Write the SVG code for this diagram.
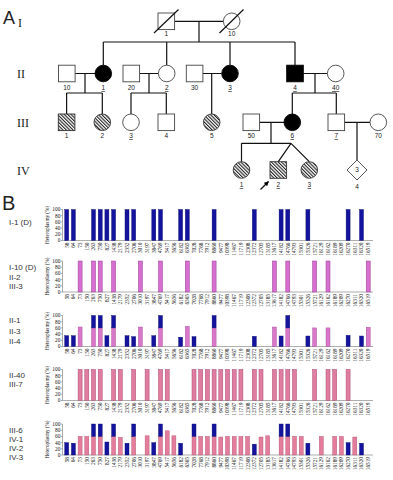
<svg xmlns="http://www.w3.org/2000/svg" width="393" height="480" viewBox="0 0 393 480">
<style>
.ln{stroke:#111;stroke-width:1.2;fill:none}
.open{fill:#fff;stroke:#444;stroke-width:0.9}
.aff{fill:#000;stroke:#000;stroke-width:0.9}
.hat{fill:url(#hatch);stroke:#333;stroke-width:0.9}
.id{font-family:"Liberation Sans",Arial,sans-serif;font-size:6.5px;fill:#222;text-anchor:middle}
.u{text-decoration:underline}
.gen{font-family:"Liberation Serif","Times New Roman",serif;font-size:12px;fill:#222}
.big{font-family:"Liberation Sans",Arial,sans-serif;fill:#222}
.cl{font-family:"Liberation Sans",Arial,sans-serif;font-size:8px;fill:#333}
.ax{stroke:#777;stroke-width:0.6;fill:none}
.tk{font-family:"Liberation Serif",serif;font-size:5.3px;fill:#111;text-anchor:end}
.xl{font-family:"Liberation Serif",serif;font-size:5.3px;fill:#111;text-anchor:end}
.yt{font-family:"Liberation Serif",serif;font-size:5.2px;fill:#111;text-anchor:middle}
.b{fill:#13139e;stroke:#0a0a6e;stroke-width:0.4}
.p2{fill:#d66fd0;stroke:#9a3a96;stroke-width:0.5}
.p3{fill:#d977c8;stroke:#a0479a;stroke-width:0.4}
.p4{fill:#e07ca0;stroke:#a84a6c;stroke-width:0.5}
.p5{fill:#e47c9c;stroke:#b0506e;stroke-width:0.4}
</style>
<defs>
<pattern id="hatch" patternUnits="userSpaceOnUse" width="2.4" height="2.4" patternTransform="rotate(-45)">
<rect width="2.4" height="2.4" fill="#fff"/>
<rect width="1.1" height="2.4" fill="#222"/>
</pattern>
<marker id="ah" viewBox="0 0 10 10" refX="9" refY="5" markerWidth="4" markerHeight="4" orient="auto"><path d="M0,0 L10,5 L0,10 z" fill="#000"/></marker>
<g id="axes">
<path class="ax" d="M62.5,0 V31 H373 M60.8,0 H62.5 M60.8,6.2 H62.5 M60.8,12.4 H62.5 M60.8,18.6 H62.5 M60.8,24.8 H62.5 M60.8,31 H62.5"/>
<text class="tk" x="60.3" y="1.9">100</text>
<text class="tk" x="60.3" y="8.1">80</text>
<text class="tk" x="60.3" y="14.3">60</text>
<text class="tk" x="60.3" y="20.5">40</text>
<text class="tk" x="60.3" y="26.7">20</text>
<text class="tk" x="60.3" y="32.9">0</text>
<text class="yt" transform="translate(48.8,15.5) rotate(-90)">Heteroplasmy (%)</text>
<g class="xl">
<text transform="translate(68.6,33) rotate(-90)">58</text>
<text transform="translate(75.3,33) rotate(-90)">64</text>
<text transform="translate(82.0,33) rotate(-90)">73</text>
<text transform="translate(88.7,33) rotate(-90)">150</text>
<text transform="translate(95.4,33) rotate(-90)">263</text>
<text transform="translate(102.1,33) rotate(-90)">750</text>
<text transform="translate(108.8,33) rotate(-90)">827</text>
<text transform="translate(115.5,33) rotate(-90)">1438</text>
<text transform="translate(122.2,33) rotate(-90)">2179</text>
<text transform="translate(128.9,33) rotate(-90)">2352</text>
<text transform="translate(135.6,33) rotate(-90)">2706</text>
<text transform="translate(142.3,33) rotate(-90)">3010</text>
<text transform="translate(149.0,33) rotate(-90)">3197</text>
<text transform="translate(155.7,33) rotate(-90)">3847</text>
<text transform="translate(162.4,33) rotate(-90)">4769</text>
<text transform="translate(169.1,33) rotate(-90)">5417</text>
<text transform="translate(175.8,33) rotate(-90)">5656</text>
<text transform="translate(182.5,33) rotate(-90)">6182</text>
<text transform="translate(189.2,33) rotate(-90)">6365</text>
<text transform="translate(195.9,33) rotate(-90)">7028</text>
<text transform="translate(202.6,33) rotate(-90)">7768</text>
<text transform="translate(209.3,33) rotate(-90)">7912</text>
<text transform="translate(216.0,33) rotate(-90)">8860</text>
<text transform="translate(222.7,33) rotate(-90)">9477</text>
<text transform="translate(229.4,33) rotate(-90)">10398</text>
<text transform="translate(236.1,33) rotate(-90)">11467</text>
<text transform="translate(242.8,33) rotate(-90)">11719</text>
<text transform="translate(249.5,33) rotate(-90)">12308</text>
<text transform="translate(256.2,33) rotate(-90)">12372</text>
<text transform="translate(262.9,33) rotate(-90)">12705</text>
<text transform="translate(269.6,33) rotate(-90)">13185</text>
<text transform="translate(276.3,33) rotate(-90)">13617</text>
<text transform="translate(283.0,33) rotate(-90)">14182</text>
<text transform="translate(289.7,33) rotate(-90)">14766</text>
<text transform="translate(296.4,33) rotate(-90)">14793</text>
<text transform="translate(303.1,33) rotate(-90)">15301</text>
<text transform="translate(309.8,33) rotate(-90)">15326</text>
<text transform="translate(316.5,33) rotate(-90)">15721</text>
<text transform="translate(323.2,33) rotate(-90)">16129</text>
<text transform="translate(329.9,33) rotate(-90)">16162</text>
<text transform="translate(336.6,33) rotate(-90)">16189</text>
<text transform="translate(343.3,33) rotate(-90)">16209</text>
<text transform="translate(350.0,33) rotate(-90)">16270</text>
<text transform="translate(356.7,33) rotate(-90)">16311</text>
<text transform="translate(363.4,33) rotate(-90)">16320</text>
<text transform="translate(370.1,33) rotate(-90)">16519</text>
</g>
</g>
</defs>
<rect width="393" height="480" fill="#fff"/>

<!-- Panel A -->
<text class="big" x="3" y="23.5" font-size="18">A</text>
<text class="gen" x="18" y="27">I</text>
<text class="gen" x="17" y="77.5">II</text>
<text class="gen" x="17" y="126.5">III</text>
<text class="gen" x="17" y="174.5">IV</text>

<g id="connectors">
<path class="ln" d="M175,21.3 H223.4 M199,21.3 V42 M103.3,42 H295 M103.3,42 V65.2 M166.7,42 V65.2 M230,42 V65.2 M295,42 V65.2"/>
<path class="ln" d="M75.1,73.5 H95 M139.6,73.5 H158.4 M202.9,73.5 H221.7 M303.3,73.5 H327.4 M85,73.5 V93 M149,73.5 V93 M211.7,73.5 V114 M315,73.5 V93"/>
<path class="ln" d="M66.6,93 H102.3 M131,93 H166.3 M292.3,93 H336.3 M66.6,93 V114 M102.3,93 V114 M131,93 V114 M166.3,93 V114 M292.3,93 V114 M336.3,93 V114"/>
<path class="ln" d="M259.6,122.3 H284 M344.6,122.3 H370 M271,122.3 V143.3 M357,122.3 V160 M241.5,143.3 H291 M241.5,143.3 V161.7 M291,143.3 L278.3,161.7 M291,143.3 L309.3,161.7"/>
<line class="ln" x1="260.5" y1="189.5" x2="268.5" y2="181.5" marker-end="url(#ah)"/>
</g>

<g id="I-1"><rect class="open" x="158" y="13" width="16.6" height="16.6"/><line class="ln" x1="154" y1="33" x2="178.5" y2="9.5"/><text class="id" x="166.3" y="36">1</text></g>
<g id="I-10"><circle class="open" cx="231.7" cy="21.3" r="8.3"/><line class="ln" x1="219.5" y1="33" x2="243.5" y2="9.5"/><text class="id" x="231.7" y="36">10</text></g>

<g id="II-10"><rect class="open" x="58.5" y="65.2" width="16.6" height="16.6"/><text class="id" x="66.8" y="90">10</text></g>
<g id="II-1"><circle class="aff" cx="103.3" cy="73.5" r="8.3"/><text class="id u" x="103.3" y="90">1</text></g>
<g id="II-20"><rect class="open" x="123" y="65.2" width="16.6" height="16.6"/><text class="id" x="131.3" y="90">20</text></g>
<g id="II-2"><circle class="open" cx="166.7" cy="73.5" r="8.3"/><text class="id u" x="166.7" y="90">2</text></g>
<g id="II-30"><rect class="open" x="186.3" y="65.2" width="16.6" height="16.6"/><text class="id" x="194.6" y="90">30</text></g>
<g id="II-3"><circle class="aff" cx="230" cy="73.5" r="8.3"/><text class="id u" x="230" y="90">3</text></g>
<g id="II-4"><rect class="aff" x="286.7" y="65.2" width="16.6" height="16.6"/><text class="id u" x="295" y="90">4</text></g>
<g id="II-40"><circle class="open" cx="335.7" cy="73.5" r="8.3"/><text class="id u" x="335.7" y="90">40</text></g>

<g id="III-1"><rect class="hat" x="58.3" y="114" width="16.6" height="16.6"/><text class="id" x="66.6" y="138">1</text></g>
<g id="III-2"><circle class="hat" cx="102.3" cy="122.3" r="8.3"/><text class="id" x="102.3" y="138">2</text></g>
<g id="III-3"><circle class="open" cx="131" cy="122.3" r="8.3"/><text class="id u" x="131" y="138">3</text></g>
<g id="III-4"><rect class="open" x="158" y="114" width="16.6" height="16.6"/><text class="id" x="166.3" y="138">4</text></g>
<g id="III-5"><circle class="hat" cx="211.7" cy="122.3" r="8.3"/><text class="id" x="211.7" y="138">5</text></g>
<g id="III-50"><rect class="open" x="243" y="114" width="16.6" height="16.6"/><text class="id" x="251.3" y="138">50</text></g>
<g id="III-6"><circle class="aff" cx="292.3" cy="122.3" r="8.3"/><text class="id u" x="292.3" y="138">6</text></g>
<g id="III-7"><rect class="open" x="328" y="114" width="16.6" height="16.6"/><text class="id u" x="336.3" y="138">7</text></g>
<g id="III-70"><circle class="open" cx="378.3" cy="122.3" r="8.3"/><text class="id" x="378.3" y="138">70</text></g>

<g id="IV-1"><circle class="hat" cx="241.5" cy="170" r="8.3"/><text class="id u" x="241.5" y="187.3">1</text></g>
<g id="IV-2"><rect class="hat" x="270" y="161.7" width="16.6" height="16.6"/><text class="id u" x="278.3" y="187.3">2</text></g>
<g id="IV-3"><circle class="hat" cx="309.3" cy="170" r="8.3"/><text class="id u" x="309.3" y="187.3">3</text></g>
<g id="IV-4"><polygon class="open" points="357,160 367,170 357,180 347,170"/><text class="id" x="357" y="172.4" font-size="7">3</text><text class="id" x="357" y="189">4</text></g>

<!-- Panel B -->
<text class="big" x="2" y="210" font-size="20">B</text>
<g class="cl">
<text x="9" y="225">I-1 (D)</text>
<text x="9" y="269.5">I-10 (D)</text>
<text x="9" y="279.5">II-2</text>
<text x="9" y="289">III-3</text>
<text x="9" y="322.5">II-1</text>
<text x="9" y="334">II-3</text>
<text x="9" y="344">II-4</text>
<text x="9" y="378">II-40</text>
<text x="9" y="387">III-7</text>
<text x="9" y="433">III-6</text>
<text x="9" y="441.5">IV-1</text>
<text x="9" y="450.5">IV-2</text>
<text x="9" y="459.5">IV-3</text>
</g>

<g id="chart-1" transform="translate(0,209.5)">
<use href="#axes"/>
<g class="b">
<rect x="64.7" y="0" width="4" height="31"/><rect x="71.4" y="0" width="4" height="31"/><rect x="91.5" y="0" width="4" height="31"/><rect x="98.2" y="0" width="4" height="31"/><rect x="104.9" y="0" width="4" height="31"/><rect x="111.6" y="0" width="4" height="31"/><rect x="125.0" y="0" width="4" height="31"/><rect x="131.7" y="0" width="4" height="31"/><rect x="151.8" y="0" width="4" height="31"/><rect x="158.5" y="0" width="4" height="31"/><rect x="178.6" y="0" width="4" height="31"/><rect x="185.3" y="0" width="4" height="31"/><rect x="212.1" y="0" width="4" height="31"/><rect x="252.3" y="0" width="4" height="31"/><rect x="279.1" y="0" width="4" height="31"/><rect x="285.8" y="0" width="4" height="31"/><rect x="305.9" y="0" width="4" height="31"/><rect x="346.1" y="0" width="4" height="31"/><rect x="359.5" y="0" width="4" height="31"/>
</g>
</g>

<g id="chart-2" transform="translate(0,261)">
<use href="#axes"/>
<g class="p2">
<rect x="78.1" y="0" width="4" height="31"/><rect x="91.5" y="0" width="4" height="31"/><rect x="98.2" y="0" width="4" height="31"/><rect x="111.6" y="0" width="4" height="31"/><rect x="138.4" y="0" width="4" height="31"/><rect x="158.5" y="0" width="4" height="31"/><rect x="185.3" y="0" width="4" height="31"/><rect x="212.1" y="0" width="4" height="31"/><rect x="272.4" y="0" width="4" height="31"/><rect x="285.8" y="0" width="4" height="31"/><rect x="312.6" y="0" width="4" height="31"/><rect x="326.0" y="0" width="4" height="31"/><rect x="366.2" y="0" width="4" height="31"/>
</g>
</g>

<g id="chart-3" transform="translate(0,315.5)">
<use href="#axes"/>
<g class="p3">
<rect x="78.1" y="11.5" width="4" height="19.5"/><rect x="91.5" y="12.4" width="4" height="18.6"/><rect x="98.2" y="12.4" width="4" height="18.6"/><rect x="111.6" y="12.4" width="4" height="18.6"/><rect x="138.4" y="11.5" width="4" height="19.5"/><rect x="158.5" y="12.4" width="4" height="18.6"/><rect x="185.3" y="10.85" width="4" height="20.15"/><rect x="212.1" y="12.4" width="4" height="18.6"/><rect x="272.4" y="11.5" width="4" height="19.5"/><rect x="285.8" y="12.4" width="4" height="18.6"/><rect x="312.6" y="12.4" width="4" height="18.6"/><rect x="326.0" y="12.4" width="4" height="18.6"/><rect x="366.2" y="11.8" width="4" height="19.2"/>
</g>
<g class="b">
<rect x="64.7" y="20.15" width="4" height="10.85"/><rect x="71.4" y="20.15" width="4" height="10.85"/><rect x="91.5" y="0" width="4" height="12.4"/><rect x="98.2" y="0" width="4" height="12.4"/><rect x="104.9" y="20.15" width="4" height="10.85"/><rect x="111.6" y="0" width="4" height="12.4"/><rect x="125.0" y="20.15" width="4" height="10.85"/><rect x="131.7" y="21.1" width="4" height="9.9"/><rect x="151.8" y="20.15" width="4" height="10.85"/><rect x="158.5" y="0" width="4" height="12.4"/><rect x="178.6" y="21.7" width="4" height="9.3"/><rect x="192.0" y="21.1" width="4" height="9.9"/><rect x="212.1" y="0" width="4" height="12.4"/><rect x="252.3" y="20.8" width="4" height="10.2"/><rect x="279.1" y="20.5" width="4" height="10.5"/><rect x="285.8" y="0" width="4" height="12.4"/><rect x="305.9" y="20.5" width="4" height="10.5"/><rect x="346.1" y="19.8" width="4" height="11.2"/><rect x="359.5" y="20.5" width="4" height="10.5"/>
</g>
</g>

<g id="chart-4" transform="translate(0,369.5)">
<use href="#axes"/>
<g class="p4">
<rect x="78.1" y="0" width="4" height="31"/><rect x="84.8" y="0" width="4" height="31"/><rect x="91.5" y="0" width="4" height="31"/><rect x="98.2" y="0" width="4" height="31"/><rect x="111.6" y="0" width="4" height="31"/><rect x="118.3" y="0" width="4" height="31"/><rect x="131.7" y="0" width="4" height="31"/><rect x="145.1" y="0" width="4" height="31"/><rect x="158.5" y="0" width="4" height="31"/><rect x="165.2" y="0" width="4" height="31"/><rect x="192.0" y="0" width="4" height="31"/><rect x="198.7" y="0" width="4" height="31"/><rect x="205.4" y="0" width="4" height="31"/><rect x="212.1" y="0" width="4" height="31"/><rect x="218.8" y="0" width="4" height="31"/><rect x="225.5" y="0" width="4" height="31"/><rect x="232.2" y="0" width="4" height="31"/><rect x="238.9" y="0" width="4" height="31"/><rect x="252.3" y="0" width="4" height="31"/><rect x="259.0" y="0" width="4" height="31"/><rect x="272.4" y="0" width="4" height="31"/><rect x="279.1" y="0" width="4" height="31"/><rect x="285.8" y="0" width="4" height="31"/><rect x="292.5" y="0" width="4" height="31"/><rect x="312.6" y="0" width="4" height="31"/><rect x="326.0" y="0" width="4" height="31"/><rect x="332.7" y="0" width="4" height="31"/><rect x="346.1" y="0" width="4" height="31"/>
</g>
</g>

<g id="chart-5" transform="translate(0,424)">
<use href="#axes"/>
<g class="p5">
<rect x="78.1" y="12.4" width="4" height="18.6"/><rect x="84.8" y="12.4" width="4" height="18.6"/><rect x="91.5" y="12.4" width="4" height="18.6"/><rect x="98.2" y="12.4" width="4" height="18.6"/><rect x="111.6" y="12.4" width="4" height="18.6"/><rect x="118.3" y="13.3" width="4" height="17.7"/><rect x="131.7" y="12.4" width="4" height="18.6"/><rect x="145.1" y="11.8" width="4" height="19.2"/><rect x="158.5" y="12.4" width="4" height="18.6"/><rect x="165.2" y="6.8" width="4" height="24.2"/><rect x="171.9" y="11.8" width="4" height="19.2"/><rect x="192.0" y="12.4" width="4" height="18.6"/><rect x="198.7" y="12.4" width="4" height="18.6"/><rect x="205.4" y="12.4" width="4" height="18.6"/><rect x="212.1" y="12.4" width="4" height="18.6"/><rect x="218.8" y="13" width="4" height="18"/><rect x="225.5" y="12.4" width="4" height="18.6"/><rect x="232.2" y="12.4" width="4" height="18.6"/><rect x="238.9" y="12.4" width="4" height="18.6"/><rect x="245.6" y="12.4" width="4" height="18.6"/><rect x="259.0" y="13" width="4" height="18"/><rect x="265.7" y="11.8" width="4" height="19.2"/><rect x="279.1" y="12.4" width="4" height="18.6"/><rect x="285.8" y="12.4" width="4" height="18.6"/><rect x="292.5" y="12.4" width="4" height="18.6"/><rect x="299.2" y="12.4" width="4" height="18.6"/><rect x="319.3" y="12.4" width="4" height="18.6"/><rect x="332.7" y="12.4" width="4" height="18.6"/><rect x="339.4" y="12.4" width="4" height="18.6"/><rect x="352.8" y="13" width="4" height="18"/>
</g>
<g class="b">
<rect x="64.7" y="18.6" width="4" height="12.4"/><rect x="71.4" y="19.2" width="4" height="11.8"/><rect x="91.5" y="0" width="4" height="12.4"/><rect x="98.2" y="0" width="4" height="12.4"/><rect x="104.9" y="18" width="4" height="13"/><rect x="111.6" y="0" width="4" height="12.4"/><rect x="125.0" y="19.2" width="4" height="11.8"/><rect x="131.7" y="0" width="4" height="12.4"/><rect x="151.8" y="18.6" width="4" height="12.4"/><rect x="158.5" y="0" width="4" height="12.4"/><rect x="178.6" y="19.2" width="4" height="11.8"/><rect x="192.0" y="0" width="4" height="12.4"/><rect x="212.1" y="0" width="4" height="12.4"/><rect x="252.3" y="20.15" width="4" height="10.85"/><rect x="279.1" y="0" width="4" height="12.4"/><rect x="285.8" y="0" width="4" height="12.4"/><rect x="305.9" y="19.2" width="4" height="11.8"/><rect x="346.1" y="18.6" width="4" height="12.4"/><rect x="359.5" y="19.2" width="4" height="11.8"/>
</g>
</g>
</svg>
